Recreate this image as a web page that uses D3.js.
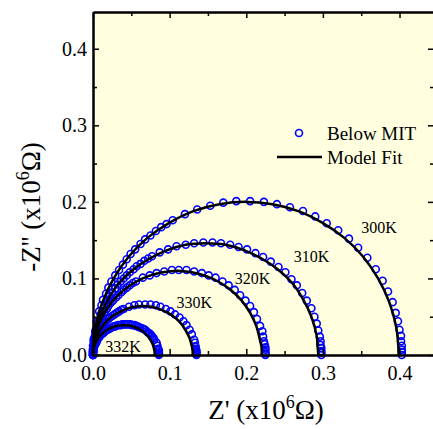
<!DOCTYPE html>
<html>
<head>
<meta charset="utf-8">
<script src="https://cdn.jsdelivr.net/npm/d3@7"></script>
<style>
  body { margin: 0; background: #fff; }
</style>
</head>
<body>
<div id="chart"></div>
<script>
// Temperatures (one semicircle each) and label anchors in data units
const temps = ["300K", "310K", "320K", "330K", "332K"];
const labelX = [0.350, 0.262, 0.185, 0.109, 0.016];
const labelY = [0.159, 0.121, 0.093, 0.062, 0.004];

// Measured points "Below MIT": [Z', -Z''] in 10^6 Ohm
const data300 = [[0.403,0],[0.403,0.004],[0.403,0.007],[0.403,0.012],[0.402,0.018],[0.402,0.025],[0.400,0.033],[0.398,0.044],[0.395,0.055],[0.391,0.069],[0.385,0.083],[0.378,0.097],[0.369,0.112],[0.358,0.127],[0.346,0.140],[0.334,0.152],[0.320,0.163],[0.305,0.172],[0.290,0.181],[0.274,0.188],[0.257,0.193],[0.240,0.197],[0.223,0.200],[0.205,0.201],[0.187,0.201],[0.170,0.199],[0.153,0.195],[0.136,0.190],[0.120,0.184],[0.104,0.176],[0.089,0.167],[0.075,0.156],[0.062,0.145],[0.049,0.132],[0.039,0.118],[0.029,0.104],[0.020,0.088],[0.013,0.072],[0.008,0.057],[0.005,0.044],[0.003,0.031],[0.001,0.021],[0.000,0.012],[0.000,0.005],[0,0],
    [0.096,0.171],[0.082,0.162],[0.068,0.151],[0.055,0.138],[0.044,0.125],[0.034,0.111],[0.024,0.096],[0.017,0.080],[0.011,0.065]];
const data310 = [[0.298,0],[0.298,0.003],[0.298,0.005],[0.298,0.009],[0.297,0.013],[0.297,0.018],[0.296,0.024],[0.294,0.032],[0.292,0.041],[0.289,0.050],[0.285,0.061],[0.279,0.071],[0.273,0.081],[0.266,0.091],[0.259,0.099],[0.251,0.108],[0.242,0.115],[0.232,0.122],[0.222,0.128],[0.212,0.133],[0.201,0.138],[0.190,0.141],[0.179,0.144],[0.167,0.146],[0.156,0.147],[0.144,0.147],[0.132,0.146],[0.121,0.144],[0.109,0.142],[0.098,0.138],[0.087,0.134],[0.077,0.129],[0.067,0.123],[0.057,0.116],[0.048,0.108],[0.040,0.100],[0.032,0.092],[0.025,0.082],[0.019,0.072],[0.014,0.062],[0.010,0.053],[0.007,0.043],[0.004,0.034],[0.003,0.027],[0.001,0.019],[0.001,0.013],[0.000,0.008],[0.000,0.004],[0,0],
    [0.072,0.126],[0.062,0.119],[0.053,0.112],[0.044,0.104],[0.036,0.096],[0.029,0.087],[0.022,0.077],[0.017,0.067],[0.012,0.057]];
const data320 = [[0.225,0],[0.225,0.002],[0.225,0.004],[0.225,0.007],[0.225,0.010],[0.224,0.014],[0.223,0.018],[0.222,0.024],[0.221,0.031],[0.218,0.038],[0.214,0.047],[0.210,0.056],[0.205,0.064],[0.199,0.071],[0.192,0.078],[0.185,0.085],[0.177,0.091],[0.169,0.096],[0.160,0.101],[0.151,0.104],[0.142,0.107],[0.132,0.109],[0.122,0.111],[0.112,0.111],[0.103,0.111],[0.093,0.109],[0.083,0.107],[0.074,0.104],[0.065,0.101],[0.056,0.096],[0.048,0.091],[0.040,0.085],[0.033,0.078],[0.026,0.071],[0.020,0.064],[0.015,0.056],[0.011,0.047],[0.007,0.038],[0.004,0.031],[0.002,0.023],[0.001,0.017],[0.001,0.012],[0.000,0.007],[0.000,0.003],[0,0],
    [0.052,0.094],[0.044,0.088],[0.037,0.082],[0.030,0.075],[0.023,0.068],[0.018,0.060],[0.013,0.051],[0.009,0.042]];
const data330 = [[0.135,0],[0.135,0.001],[0.135,0.002],[0.135,0.004],[0.135,0.006],[0.134,0.008],[0.134,0.011],[0.133,0.016],[0.132,0.020],[0.129,0.027],[0.126,0.033],[0.122,0.039],[0.118,0.044],[0.113,0.049],[0.107,0.053],[0.101,0.057],[0.095,0.060],[0.088,0.063],[0.082,0.065],[0.075,0.066],[0.068,0.066],[0.060,0.066],[0.054,0.065],[0.047,0.063],[0.040,0.060],[0.034,0.057],[0.028,0.053],[0.022,0.049],[0.017,0.044],[0.013,0.039],[0.009,0.033],[0.006,0.027],[0.003,0.020],[0.002,0.016],[0.001,0.011],[0.001,0.008],[0.000,0.005],[0.000,0.002],[0,0],
    [0.037,0.059],[0.031,0.055],[0.025,0.051],[0.020,0.047],[0.015,0.042],[0.011,0.036],[0.007,0.030]];
const data332 = [[0.086,0],[0.086,0.001],[0.086,0.002],[0.086,0.003],[0.086,0.006],[0.085,0.008],[0.084,0.012],[0.083,0.016],[0.080,0.020],[0.077,0.024],[0.074,0.028],[0.070,0.031],[0.066,0.034],[0.061,0.036],[0.056,0.038],[0.051,0.039],[0.046,0.040],[0.041,0.040],[0.036,0.039],[0.030,0.038],[0.026,0.037],[0.021,0.034],[0.017,0.032],[0.013,0.028],[0.009,0.025],[0.006,0.021],[0.004,0.016],[0.002,0.012],[0.001,0.009],[0.001,0.006],[0.000,0.004],[0.000,0.002],[0,0],
    [0.079,0.022],[0.076,0.026],[0.072,0.029],[0.068,0.033],[0.064,0.035],[0.059,0.037],[0.054,0.039],[0.049,0.040],[0.043,0.040],[0.038,0.040],[0.033,0.039],[0.028,0.037],[0.023,0.035],[0.019,0.033],[0.015,0.030],[0.011,0.027],[0.008,0.023],[0.005,0.018],[0.003,0.014]];

// Model fit curves: [Z', -Z''] in 10^6 Ohm
const fit300 = [[0.399,0],[0.398,0.017],[0.396,0.035],[0.387,0.068],[0.372,0.100],[0.352,0.129],[0.328,0.153],[0.299,0.173],[0.268,0.188],[0.234,0.197],[0.200,0.200],[0.165,0.197],[0.131,0.188],[0.100,0.173],[0.071,0.153],[0.047,0.129],[0.027,0.100],[0.012,0.068],[0.003,0.035],[0.001,0.017],[0,0]];
const fit310 = [[0.294,0],[0.293,0.013],[0.292,0.025],[0.285,0.050],[0.274,0.073],[0.260,0.094],[0.241,0.112],[0.220,0.126],[0.197,0.137],[0.173,0.144],[0.147,0.146],[0.121,0.144],[0.097,0.137],[0.074,0.126],[0.053,0.112],[0.034,0.094],[0.020,0.073],[0.009,0.050],[0.002,0.025],[0.001,0.013],[0,0]];
const fit320 = [[0.220,0],[0.220,0.010],[0.218,0.019],[0.213,0.038],[0.205,0.055],[0.194,0.071],[0.181,0.084],[0.165,0.095],[0.148,0.103],[0.129,0.108],[0.110,0.110],[0.091,0.108],[0.072,0.103],[0.055,0.095],[0.039,0.084],[0.026,0.071],[0.015,0.055],[0.007,0.038],[0.002,0.019],[0.000,0.010],[0,0]];
const fit330 = [[0.130,0],[0.130,0.006],[0.129,0.011],[0.126,0.022],[0.121,0.032],[0.115,0.041],[0.107,0.049],[0.098,0.055],[0.087,0.060],[0.076,0.063],[0.065,0.064],[0.054,0.063],[0.043,0.060],[0.033,0.055],[0.023,0.049],[0.015,0.041],[0.009,0.032],[0.004,0.022],[0.001,0.011],[0.000,0.006],[0,0]];
const fit332 = [[0.0805,0],[0.0804,0.0034],[0.0799,0.0068],[0.0781,0.0133],[0.0751,0.0195],[0.0711,0.0251],[0.0661,0.0299],[0.0604,0.0338],[0.0540,0.0366],[0.0472,0.0384],[0.0403,0.0390],[0.0333,0.0384],[0.0265,0.0366],[0.0201,0.0338],[0.0144,0.0299],[0.0094,0.0251],[0.0054,0.0195],[0.0024,0.0133],[0.0006,0.0068],[0.0002,0.0034],[0,0]];

const dataSeries = [data300, data310, data320, data330, data332];
const fitSeries = [fit300, fit310, fit320, fit330, fit332];

const xTicks = [0.0, 0.1, 0.2, 0.3, 0.4];
const yTicks = [0.0, 0.1, 0.2, 0.3, 0.4];
const minorTicks = [0.05, 0.15, 0.25, 0.35];

// Layout
const W = 433, H = 429;
const plot = { left: 93, right: 434, top: 12, bottom: 355 };
const serif = '"Liberation Serif", "Times New Roman", Times, serif';

const svg = d3.select("#chart")
    .append("svg")
    .attr("width", W)
    .attr("height", H)
    .style("font-family", serif);

const x = d3.scaleLinear().domain([0, 0.445]).range([plot.left, plot.right]);
const y = d3.scaleLinear().domain([0, 0.448]).range([plot.bottom, plot.top]);

// Plot background
svg.append("rect")
    .attr("x", plot.left)
    .attr("y", plot.top)
    .attr("width", plot.right - plot.left)
    .attr("height", plot.bottom - plot.top)
    .attr("fill", "#ffffe0");

// Measured points
const pts = svg.append("g");
dataSeries.forEach(series => {
    pts.selectAll(null)
        .data(series)
        .enter()
        .append("circle")
        .attr("cx", d => x(d[0]))
        .attr("cy", d => y(d[1]))
        .attr("r", 3.5)
        .attr("fill", "none")
        .attr("stroke", "#0000ff")
        .attr("stroke-width", 1.6);
});

// Model fit lines
const line = d3.line()
    .x(d => x(d[0]))
    .y(d => y(d[1]))
    .curve(d3.curveCatmullRom.alpha(0.5));

svg.append("g")
    .selectAll("path")
    .data(fitSeries)
    .enter()
    .append("path")
    .attr("d", line)
    .attr("fill", "none")
    .attr("stroke", "#000")
    .attr("stroke-width", 2.5);

// Temperature labels
svg.append("g")
    .selectAll("text")
    .data(temps)
    .enter()
    .append("text")
    .attr("x", (d, i) => x(labelX[i]))
    .attr("y", (d, i) => y(labelY[i]))
    .style("font-family", serif)
    .style("font-size", "16px")
    .text(d => d);

// Axes: ticks point inward on all four sides
const fmt = d3.format(".1f");
function styleAxis(g) {
    g.attr("font-family", null).attr("font-size", null);
    g.selectAll("path.domain").attr("stroke", "#000").attr("stroke-width", 2);
    g.selectAll(".tick line").attr("stroke", "#000").attr("stroke-width", 1.5);
    g.selectAll("text")
        .style("font-family", serif)
        .style("font-size", "20px")
        .attr("fill", "#000");
}

svg.append("g")
    .attr("transform", `translate(0,${plot.bottom})`)
    .call(d3.axisBottom(x).tickValues(xTicks).tickFormat(fmt).tickSizeInner(-6).tickSizeOuter(0).tickPadding(11))
    .call(styleAxis);
svg.append("g")
    .attr("transform", `translate(0,${plot.bottom})`)
    .call(d3.axisBottom(x).tickValues(minorTicks).tickFormat("").tickSizeInner(-4).tickSizeOuter(0))
    .call(styleAxis);

svg.append("g")
    .attr("transform", `translate(0,${plot.top})`)
    .call(d3.axisTop(x).tickValues(xTicks).tickFormat("").tickSizeInner(-6).tickSizeOuter(0))
    .call(styleAxis);
svg.append("g")
    .attr("transform", `translate(0,${plot.top})`)
    .call(d3.axisTop(x).tickValues(minorTicks).tickFormat("").tickSizeInner(-4).tickSizeOuter(0))
    .call(styleAxis);

svg.append("g")
    .attr("transform", `translate(${plot.left},0)`)
    .call(d3.axisLeft(y).tickValues(yTicks).tickFormat(fmt).tickSizeInner(-6).tickSizeOuter(0).tickPadding(6))
    .call(styleAxis);
svg.append("g")
    .attr("transform", `translate(${plot.left},0)`)
    .call(d3.axisLeft(y).tickValues(minorTicks).tickFormat("").tickSizeInner(-4).tickSizeOuter(0))
    .call(styleAxis);

svg.append("g")
    .attr("transform", `translate(${plot.right},0)`)
    .call(d3.axisRight(y).tickValues(yTicks).tickFormat("").tickSizeInner(-6).tickSizeOuter(0))
    .call(styleAxis);
svg.append("g")
    .attr("transform", `translate(${plot.right},0)`)
    .call(d3.axisRight(y).tickValues(minorTicks).tickFormat("").tickSizeInner(-4).tickSizeOuter(0))
    .call(styleAxis);

// Axis titles
const xTitle = svg.append("text")
    .attr("x", 266)
    .attr("y", 419)
    .attr("text-anchor", "middle")
    .style("font-family", serif)
    .style("font-size", "27px");
xTitle.append("tspan").text("Z' (x10");
xTitle.append("tspan").attr("dy", -11).style("font-size", "18px").text("6");
xTitle.append("tspan").attr("dy", 11).text("Ω)");

const yTitle = svg.append("text")
    .attr("transform", "translate(40,207) rotate(-90)")
    .attr("text-anchor", "middle")
    .style("font-family", serif)
    .style("font-size", "27px");
yTitle.append("tspan").text("-Z'' (x10");
yTitle.append("tspan").attr("dy", -11).style("font-size", "18px").text("6");
yTitle.append("tspan").attr("dy", 11).text("Ω)");

// Legend
const legend = svg.append("g");
legend.append("circle")
    .attr("cx", 299).attr("cy", 133).attr("r", 3.5)
    .attr("fill", "none").attr("stroke", "#0000ff").attr("stroke-width", 1.6);
legend.append("text")
    .attr("x", 327).attr("y", 140)
    .style("font-family", serif)
    .style("font-size", "19px")
    .text("Below MIT");
legend.append("line")
    .attr("x1", 277).attr("x2", 322).attr("y1", 157).attr("y2", 157)
    .attr("stroke", "#000").attr("stroke-width", 2.5);
legend.append("text")
    .attr("x", 327).attr("y", 164)
    .style("font-family", serif)
    .style("font-size", "19px")
    .text("Model Fit");
</script>
</body>
</html>
